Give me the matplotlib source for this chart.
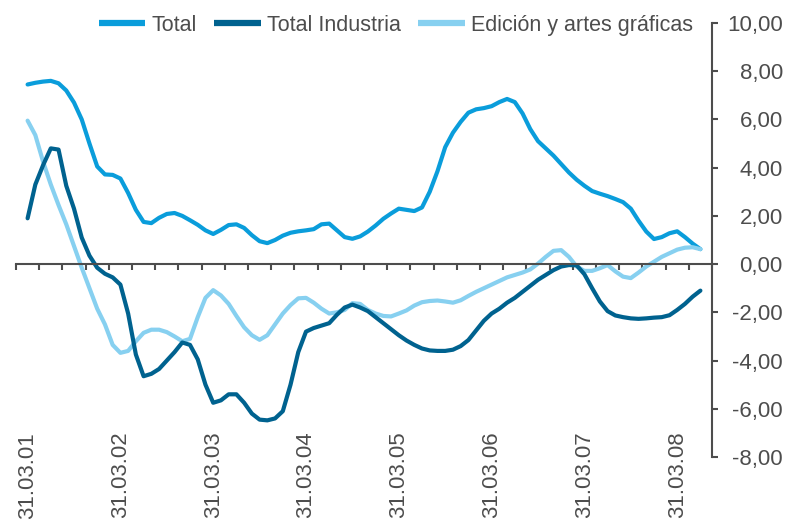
import matplotlib
matplotlib.use("Agg")
import matplotlib.pyplot as plt
from matplotlib.ticker import FixedLocator, FuncFormatter
import matplotlib.transforms as mtransforms

plt.rcParams['font.family'] = ['Liberation Sans', 'DejaVu Sans']

# monthly values, March 2001 .. June 2008
total = [7.45, 7.52, 7.57, 7.6, 7.5, 7.2, 6.7, 6.0, 5.0, 4.05,
         3.72, 3.7, 3.55, 2.95, 2.25, 1.75, 1.7, 1.92, 2.08, 2.12,
         2.0, 1.82, 1.63, 1.4, 1.25, 1.42, 1.62, 1.65, 1.5, 1.2,
         0.95, 0.87, 1.0, 1.18, 1.3, 1.36, 1.4, 1.45, 1.65, 1.68,
         1.4, 1.12, 1.05, 1.15, 1.35, 1.6, 1.88, 2.1, 2.3, 2.25,
         2.2, 2.35, 3.0, 3.85, 4.85, 5.45, 5.9, 6.28, 6.42, 6.47,
         6.55, 6.72, 6.85, 6.72, 6.25, 5.6, 5.1, 4.8, 4.5, 4.15,
         3.8, 3.5, 3.25, 3.03, 2.92, 2.82, 2.7, 2.57, 2.3, 1.8,
         1.35, 1.04, 1.12, 1.28, 1.36, 1.12, 0.85, 0.62]

total_industria = [1.9, 3.3, 4.1, 4.8, 4.75, 3.25, 2.3, 1.1, 0.35, -0.15,
                   -0.4, -0.55, -0.85, -2.05, -3.75, -4.65, -4.55, -4.35, -4.0, -3.65,
                   -3.25, -3.35, -3.95, -5.0, -5.75, -5.65, -5.4, -5.4, -5.75, -6.2,
                   -6.45, -6.48, -6.4, -6.1, -5.0, -3.65, -2.8, -2.65, -2.55, -2.45,
                   -2.1, -1.8, -1.68, -1.8, -1.95, -2.2, -2.45, -2.7, -2.95, -3.17,
                   -3.35, -3.5, -3.58, -3.6, -3.6, -3.55, -3.4, -3.15, -2.75, -2.35,
                   -2.05, -1.85, -1.6, -1.4, -1.15, -0.9, -0.65, -0.45, -0.25, -0.1,
                   -0.04, -0.05, -0.42, -1.0, -1.55, -1.95, -2.13, -2.2, -2.25, -2.27,
                   -2.25, -2.22, -2.2, -2.12, -1.9, -1.65, -1.35, -1.1]

edicion = [5.95, 5.35, 4.25, 3.3, 2.45, 1.65, 0.75, -0.15, -1.0, -1.85,
           -2.5, -3.35, -3.68, -3.6, -3.2, -2.85, -2.72, -2.72, -2.82, -3.0,
           -3.2, -3.1, -2.2, -1.4, -1.08, -1.3, -1.65, -2.15, -2.62, -2.95,
           -3.14, -2.95, -2.5, -2.05, -1.7, -1.42, -1.4, -1.6, -1.85, -2.05,
           -2.0, -1.9, -1.62, -1.65, -1.9, -2.05, -2.15, -2.17, -2.05, -1.92,
           -1.72, -1.58, -1.53, -1.51, -1.55, -1.6, -1.5, -1.32, -1.15, -1.0,
           -0.85, -0.7, -0.55, -0.45, -0.35, -0.22, 0.02, 0.3, 0.55, 0.58,
           0.3, -0.1, -0.28, -0.28, -0.17, -0.04, -0.3, -0.52, -0.58, -0.35,
           -0.1, 0.1, 0.3, 0.45, 0.6, 0.68, 0.7, 0.62]

year_labels = ['31.03.01', '31.03.02', '31.03.03', '31.03.04',
               '31.03.05', '31.03.06', '31.03.07', '31.03.08']

grey = '#4d4d4d'
c_total = '#0a9ddb'
c_ind = '#00628f'
c_edi = '#87d0f0'

fig = plt.figure(figsize=(7.92, 5.22), dpi=100)
ax = fig.add_axes([16 / 792, 1 - 457 / 522, (712 - 16) / 792, (457 - 23) / 522])

x = list(range(len(total)))
style = dict(lw=3.0, solid_capstyle='round', solid_joinstyle='round')
ax.plot(x, total, color=c_total, label='Total', **style)
ax.plot(x, edicion, color=c_edi, label='Edición y artes gráficas', **style)
ax.plot(x, total_industria, color=c_ind, label='Total Industria', **style)

ax.set_xlim(-1.5, 88.5)
ax.set_ylim(-8, 10)

for s in ['left', 'top']:
    ax.spines[s].set_visible(False)
ax.spines['bottom'].set_position(('data', 0))
ax.spines['bottom'].set_color(grey)
ax.spines['bottom'].set_linewidth(1.5)
ax.spines['right'].set_color(grey)
ax.spines['right'].set_linewidth(1.5)

# quarterly tick marks on the zero line
ax.xaxis.set_major_locator(FixedLocator([-1.5 + 3 * k for k in range(31)]))
ax.tick_params(axis='x', direction='out', length=4.5, width=1.5, color=grey,
               labelbottom=False)

ax.yaxis.tick_right()
ax.set_yticks(range(-8, 11, 2))
ax.yaxis.set_major_formatter(FuncFormatter(lambda v, p: f"{v:.2f}".replace('.', ',')))
ax.tick_params(axis='y', direction='out', length=4, width=1.5, color=grey,
               labelcolor=grey, labelsize=16, pad=47)
for t in ax.get_yticklabels():
    t.set_horizontalalignment('right')

trans = mtransforms.blended_transform_factory(ax.transData, ax.transAxes)
for k, lab in enumerate(year_labels):
    ax.text(12 * k, 0.058, lab, transform=trans, rotation=90, ha='center',
            va='top', fontsize=16, color=grey)

h, l = ax.get_legend_handles_labels()
order = [0, 2, 1]
leg = fig.legend([h[i] for i in order], [l[i] for i in order], ncol=3,
                 loc='center', bbox_to_anchor=(0.5, 0.952), frameon=False,
                 fontsize=15.5, handlelength=2.15, handletextpad=0.3,
                 columnspacing=0.8, labelcolor=grey)
for ln in leg.get_lines():
    ln.set_linewidth(4.5)
    ln.set_solid_capstyle('butt')

fig.savefig('out.png', dpi=100)
